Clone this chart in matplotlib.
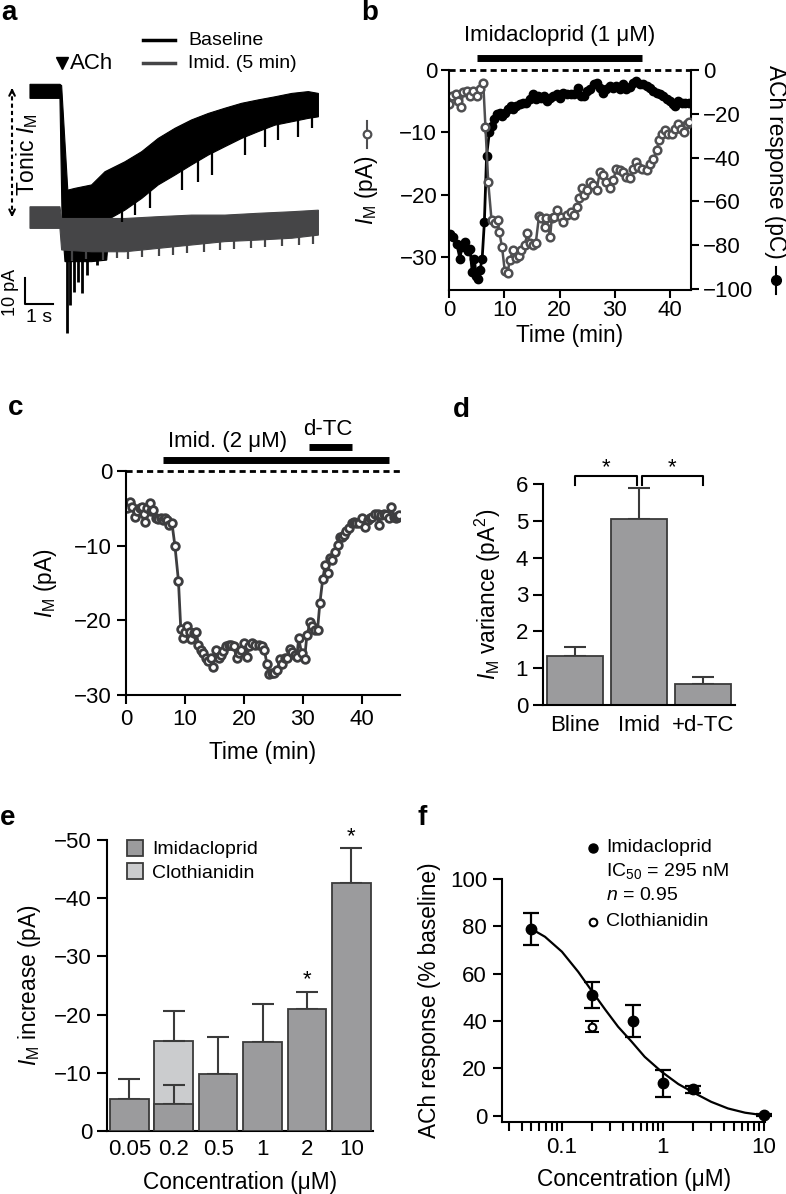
import numpy as np
import matplotlib
matplotlib.use("Agg")
import matplotlib.pyplot as plt
from matplotlib.patches import Patch
from matplotlib.lines import Line2D
from matplotlib.ticker import NullFormatter

plt.rcParams['font.family'] = ['Liberation Sans', 'DejaVu Sans']
plt.rcParams['mathtext.fontset'] = 'custom'
plt.rcParams['mathtext.rm'] = 'Liberation Sans'
plt.rcParams['mathtext.it'] = 'Liberation Sans:italic'
plt.rcParams['axes.linewidth'] = 1.5

FS = 16      # tick labels
LFS = 16.3   # axis labels
SFS = 14     # legends / small annotations

# ---------------- data ----------------
# a: envelopes of the two current traces (time in s, current in pA)
a_black_up_t = [0, 1.07, 1.13, 1.35, 1.61, 2.20, 2.68, 3.39, 3.99, 4.58, 5.18, 5.77, 6.37,
                6.96, 7.56, 8.15, 8.75, 9.35, 9.94, 10.30]
a_black_up_v = [51.3, 51.3, 50.8, 10.6, 11.3, 12.6, 17.7, 21.5, 25.4, 30.5, 34.4, 37.6, 40.1,
                42.1, 44.0, 45.3, 46.5, 47.8, 48.5, 47.8]
a_black_lo_t = [0, 1.07, 1.15, 1.25, 2.20, 2.74, 2.86, 3.39, 3.99, 4.58, 5.18, 5.77, 6.37,
                6.96, 7.56, 8.15, 8.75, 9.35, 9.94, 10.30]
a_black_lo_v = [45.9, 45.9, -2.8, -16.9, -16.9, -16.3, -0.3, 2.9, 7.4, 12.6, 16.4, 20.3, 24.1,
                27.3, 30.5, 33.1, 35.6, 36.9, 38.2, 38.8]
# downward spikes: early (below the band) and later (from the lower edge)
a_spike_t = [1.31, 1.43, 1.58, 1.73, 1.87, 2.02, 2.38]
a_spike_v = [-44.5, -33.6, -28.5, -24.6, -29.1, -22.1, -18.2]
a_edge_spike_t = [3.27, 3.75, 4.29, 5.42, 6.01, 6.49, 7.68, 8.39, 8.87, 9.58, 10.06]
a_edge_spike_top = [5.0, 9.0, 13.0, 21.0, 25.0, 28.0, 34.0, 37.0, 39.0, 40.0, 41.0]
a_edge_spike_v = [-1.5, 1.0, 3.6, 10.6, 13.8, 16.4, 24.1, 27.3, 29.9, 31.2, 34.4]
a_gray_t = [0, 1.07, 1.13, 2.20, 3.39, 4.58, 5.77, 6.96, 8.15, 9.35, 10.30]
a_gray_up = [4.2, 4.2, -0.3, -0.3, -0.3, 0.4, 1.0, 1.0, 1.7, 2.3, 2.9]
a_gray_lo = [-4.1, -4.1, -12.4, -13.1, -13.1, -11.8, -10.5, -9.2, -8.6, -7.9, -6.7]
a_gray_spike_t = [1.5, 2.0, 2.6, 3.1, 3.5, 4.0, 4.6, 5.1, 5.6, 6.2, 6.8, 7.3, 7.9, 8.4, 9.0, 9.6, 10.1]
a_gray_spike_v = [-16.5, -15.8, -16.2, -15.6, -15.9, -15.0, -14.6, -14.2, -13.5, -13.0, -12.4,
                  -12.2, -11.6, -11.4, -10.9, -10.4, -10.0]

# b: tonic IM (left axis) and ACh response (right axis)
b_im_t = [0, 0.6, 1.2, 1.7, 2.1, 2.6, 3.2, 3.8, 4.4, 5.0, 5.6, 6.2, 6.6, 7.1, 7.7, 8.3, 8.8,
          9.1, 9.6, 10.1, 10.6, 11.0, 11.6, 12.1, 12.7, 13.1, 13.7, 14.2, 14.6, 15.2, 15.7,
          16.3, 16.7, 17.3, 17.6, 18.3, 18.6, 19.0, 19.6, 20.2, 20.7, 21.3, 22.1, 22.6, 23.2,
          23.6, 24.1, 24.5, 25.0, 25.5, 26.1, 26.7, 27.3, 27.9, 28.5, 29.1, 29.7, 30.3, 30.9,
          31.5, 32.1, 32.7, 33.3, 33.8, 34.2, 35.0, 35.8, 36.4, 37.0, 37.6, 38.0, 38.5, 39.1,
          39.7, 40.3, 40.9, 41.5, 42.0, 42.6, 43.0, 43.5]
b_im_v = [-5.5, -4.1, -3.9, -4.9, -6.0, -3.6, -3.4, -4.1, -3.4, -4.1, -3.1, -2.1, -9.2, -18.0,
          -24.1, -24.6, -24.1, -26.0, -28.4, -32.3, -32.6, -30.5, -28.9, -30.2, -29.9, -28.9,
          -28.1, -26.2, -27.8, -28.1, -27.8, -23.4, -23.8, -25.2, -23.8, -26.8, -23.8, -23.6,
          -22.5, -23.6, -24.4, -23.2, -22.8, -23.3, -22.0, -20.6, -19.0, -20.1, -19.3, -18.0,
          -18.5, -19.3, -16.4, -16.9, -18.0, -19.0, -17.7, -15.9, -16.1, -16.4, -17.2, -17.4,
          -15.9, -14.8, -15.6, -15.9, -16.1, -15.1, -14.3, -12.9, -11.3, -10.3, -9.7, -10.3,
          -10.3, -9.5, -8.7, -9.5, -10.0, -8.7, -8.4]
b_ach_t = [0.2, 0.8, 1.4, 2.0, 2.3, 2.9, 3.4, 3.8, 4.2, 4.6, 4.9, 5.2, 5.6, 6.0, 6.4, 6.8, 7.3,
           7.7, 8.2, 8.6, 9.2, 9.6, 10.1, 10.7, 11.2, 11.6, 12.2, 12.8, 13.4, 14.0, 14.6, 15.2,
           15.7, 16.1, 16.7, 17.2, 17.7, 18.3, 18.9, 19.5, 20.1, 20.7, 21.3, 22.1, 22.7, 23.3,
           23.9, 24.4, 25.0, 25.6, 26.2, 26.7, 27.3, 27.9, 28.5, 29.1, 29.7, 30.3, 30.9, 31.5,
           32.1, 32.7, 33.3, 33.9, 34.5, 35.2, 35.8, 36.4, 37.0, 37.6, 38.2, 38.8, 39.4, 40.0,
           40.6, 40.9, 41.5, 42.1, 42.7, 43.5]
b_ach_v = [-74.8, -76.3, -79.4, -86.2, -80.9, -78.6, -82.4, -81.6, -92.3, -86.2, -93.8, -95.3,
           -91.5, -86.2, -69.5, -39.2, -28.5, -25.5, -22.5, -20.2, -19.4, -20.9, -19.4, -17.9,
           -16.4, -17.9, -16.4, -15.6, -14.9, -14.9, -13.4, -11.1, -13.4, -11.8, -12.6, -11.8,
           -14.1, -12.6, -11.8, -11.1, -12.6, -10.3, -10.8, -11.1, -11.1, -8.0, -11.8, -11.8,
           -9.6, -8.8, -6.5, -5.8, -8.0, -10.3, -8.8, -7.3, -8.0, -7.3, -8.8, -6.5, -8.8, -7.6,
           -5.8, -5.0, -6.5, -6.5, -7.3, -8.0, -9.6, -10.3, -11.1, -11.8, -13.4, -14.1, -15.6,
           -16.4, -14.1, -14.9, -14.9, -14.9]

# c: IM during imidacloprid 2 uM and d-TC
c_t = [0.2, 0.7, 1.1, 1.5, 1.9, 2.4, 2.7, 3.1, 3.3, 3.6, 4.0, 4.2, 4.6, 5.1, 5.5, 5.9, 6.2, 6.6,
       6.9, 7.3, 7.8, 8.3, 8.9, 9.3, 9.7, 10.0, 10.4, 10.9, 11.1, 11.5, 11.9, 12.3, 12.7, 13.1,
       13.6, 14.0, 14.4, 14.8, 15.3, 15.7, 16.1, 16.5, 17.0, 17.4, 17.9, 18.3, 18.8, 19.2, 19.6,
       20.0, 20.5, 20.9, 21.3, 21.9, 22.5, 23.1, 23.5, 23.9, 24.3, 24.7, 25.2, 25.7, 26.1, 26.5,
       27.0, 27.4, 27.8, 28.2, 28.7, 29.0, 29.3, 29.8, 30.3, 30.7, 31.3, 31.6, 32.1, 32.5, 32.9,
       33.4, 33.8, 34.2, 34.6, 35.0, 35.5, 35.9, 36.3, 36.7, 37.0, 37.3, 37.8, 38.3, 38.7, 39.1,
       39.5, 40.0, 40.6, 41.0, 41.4, 41.8, 42.3, 42.7, 42.9, 43.3, 43.7, 44.1, 44.6, 45.0, 45.4,
       45.8, 46.1, 46.4]
c_v = [-5.0, -4.1, -4.8, -6.1, -5.4, -5.0, -4.8, -5.7, -6.8, -5.0, -4.3, -5.4, -5.2, -6.3, -6.4,
       -6.3, -6.6, -6.3, -6.6, -7.2, -7.0, -10.0, -14.7, -21.2, -22.3, -21.5, -20.8, -21.5, -22.5,
       -21.7, -21.5, -23.3, -24.0, -24.4, -25.1, -25.5, -25.1, -26.2, -24.0, -25.1, -24.6, -24.1,
       -23.5, -23.3, -23.3, -23.5, -25.1, -24.4, -24.0, -23.1, -24.9, -23.5, -23.1, -23.3, -23.3,
       -23.5, -24.0, -25.8, -27.2, -27.1, -27.1, -26.7, -25.2, -25.8, -25.1, -25.1, -23.8, -24.2,
       -24.6, -24.9, -22.4, -24.4, -25.2, -22.0, -20.2, -20.8, -21.3, -21.3, -17.7, -14.4, -12.6,
       -13.7, -11.7, -11.9, -10.8, -9.9, -8.8, -8.8, -8.6, -8.1, -7.7, -7.0, -6.8, -7.0, -6.9,
       -6.3, -7.5, -6.6, -6.3, -6.1, -5.7, -5.7, -7.2, -5.9, -5.7, -5.9, -6.3, -4.8, -6.1, -6.3,
       -6.1, -5.9]

# d: IM variance
d_groups = ['Bline', 'Imid', '+d-TC']
d_vals = [1.33, 5.05, 0.57]
d_err = [0.24, 0.83, 0.20]

# e: IM increase by concentration
e_conc = ['0.05', '0.2', '0.5', '1', '2', '10']
e_imid = [-5.5, -4.6, -9.85, -15.35, -21.0, -42.6]
e_imid_err = [3.4, 3.25, 6.35, 6.55, 2.95, 6.0]
e_cloth_idx = 1
e_cloth = -15.5
e_cloth_err = 5.1
e_star_idx = [4, 5]

# f: ACh response vs concentration
f_conc = [0.05, 0.2, 0.5, 1, 2, 10]
f_resp = [78.9, 51.0, 40.0, 13.7, 11.1, 0.3]
f_err = [6.9, 5.6, 6.7, 5.7, 1.4, 0.3]
f_cloth_conc = [0.2]
f_cloth_resp = [37.6]
f_cloth_err = [2.4]
f_fit_x = [0.05, 0.068, 0.1, 0.145, 0.2, 0.27, 0.36, 0.49, 0.66, 0.97, 1.42, 2.07, 3.0, 4.4, 6.5, 10]
f_fit_y = [78.9, 75.6, 69.3, 60.8, 52.4, 44.7, 37.6, 31.3, 24.9, 18.6, 13.4, 9.5, 5.9, 3.1, 1.3, 0.2]

# ---------------- figure ----------------
W, H = 786, 1194
fig = plt.figure(figsize=(W / 100, H / 100), dpi=100)


def add_ax(x0, y0, x1, y1):
    return fig.add_axes([x0 / W, 1 - y1 / H, (x1 - x0) / W, (y1 - y0) / H])


def ftext(x, y, s, **kw):
    fig.text(x / W, 1 - y / H, s, **kw)


def style(ax, spines=('left', 'bottom'), length=6.5, pad=3.5):
    for s in ['left', 'right', 'top', 'bottom']:
        ax.spines[s].set_visible(s in spines)
    ax.tick_params(direction='out', length=length, width=1.5, labelsize=FS, pad=pad)


IM = r'$I_\mathrm{M}$'
GRAY_A = '#454547'
GRAY_B = '#4f4f51'
GRAY_C = '#3d3d3f'
BAR = '#9b9b9d'
BAR_LIGHT = '#cbccce'
EDGE = '#3a3a3a'

# panel letters
for (x, y, s) in [(1, 20, 'a'), (361, 20, 'b'), (8, 415, 'c'), (453, 417, 'd'),
                  (0, 825, 'e'), (418, 825, 'f')]:
    ftext(x, y, s, fontsize=20, fontweight='bold', va='baseline')

# ---- a ----
ax = add_ax(0, 20, 330, 350)
ax.set_xlim(-1.071, 10.714)
ax.set_ylim(-50.88, 76.04)
ax.axis('off')
ax.fill(np.r_[a_black_up_t, a_black_lo_t[::-1]], np.r_[a_black_up_v, a_black_lo_v[::-1]],
        color='black', lw=0.8)
ax.vlines(a_spike_t, -16, a_spike_v, color='black', lw=2)
ax.vlines(a_edge_spike_t, a_edge_spike_top, a_edge_spike_v, color='black', lw=1.6)
ax.fill(np.r_[a_gray_t, a_gray_t[::-1]], np.r_[a_gray_up, a_gray_lo[::-1]],
        color=GRAY_A, lw=0.8)
ax.vlines(a_gray_spike_t, -5, a_gray_spike_v, color=GRAY_A, lw=1.6)
ax.plot([4.04, 5.18], [68.3, 68.3], color='black', lw=2.5)
ax.plot([4.04, 5.18], [59.5, 59.5], color=GRAY_A, lw=2.5)
ax.text(5.64, 68.3, 'Baseline', fontsize=SFS, va='center')
ax.text(5.64, 59.5, 'Imid. (5 min)', fontsize=SFS, va='center')
ax.plot(1.14, 59.5, marker='v', ms=9, color='black')
ax.text(1.43, 59.5, 'ACh', fontsize=FS, va='center')
ax.plot([-0.64, -0.64], [49.5, 0.6], ls=(0, (2, 1.5)), lw=1.5, color='black')
ax.annotate('', xy=(-0.64, 51), xytext=(-0.64, 47), arrowprops=dict(arrowstyle='->', lw=1.5))
ax.annotate('', xy=(-0.64, -0.9), xytext=(-0.64, 3), arrowprops=dict(arrowstyle='->', lw=1.5))
ax.text(-0.11, 24.1, 'Tonic ' + IM, fontsize=16.5, rotation=90, ha='center', va='center')
ax.plot([-0.18, -0.18, 0.82], [-23.2, -33.2, -33.2], color='black', lw=1.5)
ax.text(-0.71, -28.6, '10 pA', fontsize=13, rotation=90, ha='center', va='center')
ax.text(0.32, -38.5, '1 s', fontsize=SFS, ha='center', va='center')

# ---- b ----
ax = add_ax(449, 70, 691, 290)
ax2 = ax.twinx()
ax.set_zorder(ax2.get_zorder() + 1)
ax.patch.set_visible(False)
ax.set_xlim(0, 43.8)
ax.set_ylim(-35.3, 0)
ax2.set_ylim(-100.4, 0)
style(ax, length=5.5, pad=3)
style(ax2, spines=('right',), length=5.5, pad=3)
ax.tick_params(axis='x', pad=2)
ax2.plot(b_ach_t, b_ach_v, color='black', lw=2, marker='o', ms=6)
ax.plot(b_im_t, b_im_v, color=GRAY_B, lw=1.8, marker='o', ms=5.5, mfc='white', mec=GRAY_B, mew=1.8)
ax.plot([0, 43.8], [0, 0], ls=(0, (2.2, 1.5)), lw=2, color='black', clip_on=False)
ax.plot([5, 35], [1.93, 1.93], lw=5, color='black', solid_capstyle='butt', clip_on=False)
ax.text(20.1, 5.6, 'Imidacloprid (1 μM)', fontsize=FS, ha='center', va='center')
ax.set_xticks([0, 10, 20, 30, 40])
ax.set_yticks([0, -10, -20, -30])
ax2.set_yticks([0, -20, -40, -60, -80, -100])
ax.set_xlabel('Time (min)', fontsize=LFS, labelpad=2)
ftext(367, 190, IM + ' (pA)', fontsize=LFS, rotation=90, ha='center', va='center')
fig.add_artist(Line2D([367 / W, 367 / W], [1 - 121 / H, 1 - 148 / H], color=GRAY_B, lw=1.5))
fig.add_artist(Line2D([367 / W], [1 - 134 / H], marker='o', ms=5.5, mfc='white', mec=GRAY_B, mew=1.6))
ftext(776, 162, 'ACh response (pC)', fontsize=LFS, rotation=270, ha='center', va='center')
fig.add_artist(Line2D([776 / W, 776 / W], [1 - 267 / H, 1 - 294 / H], color='black', lw=1.5))
fig.add_artist(Line2D([776 / W], [1 - 280 / H], marker='o', ms=7, color='black'))

# ---- c ----
ax = add_ax(126, 471, 400, 695)
ax.set_xlim(0, 46.5)
ax.set_ylim(-30, 0)
style(ax)
ax.plot(c_t, c_v, color=GRAY_C, lw=2, marker='o', ms=5.5, mfc='white', mec=GRAY_C, mew=2)
ax.plot([0, 46.5], [0, 0], ls=(0, (2.2, 1.5)), lw=2, color='black', clip_on=False)
ax.plot([6.3, 44.7], [1.47, 1.47], lw=5, color='black', solid_capstyle='butt', clip_on=False)
ax.plot([31, 38.4], [3.25, 3.25], lw=5, color='black', solid_capstyle='butt', clip_on=False)
ax.text(17.3, 4.0, 'Imid. (2 μM)', fontsize=FS, ha='center', va='center')
ax.text(34.3, 5.5, 'd-TC', fontsize=FS, ha='center', va='center')
ax.set_xticks([0, 10, 20, 30, 40])
ax.set_yticks([0, -10, -20, -30])
ax.set_xlabel('Time (min)', fontsize=LFS, labelpad=8)
ax.set_ylabel(IM + ' (pA)', fontsize=LFS, labelpad=11)

# ---- d ----
ax = add_ax(542.7, 484, 735, 705)
ax.set_xlim(-0.5, 2.5)
ax.set_ylim(0, 6)
style(ax, length=7)
xd = np.arange(len(d_groups))
ax.bar(xd, d_vals, width=0.875, color=BAR, edgecolor=EDGE, lw=1.3, zorder=2)
ax.errorbar(xd, d_vals, yerr=[np.zeros(len(d_vals)), d_err], fmt='none', ecolor=EDGE,
            elinewidth=1.5, capsize=8, capthick=1.5, zorder=1)
ax.set_xticks(xd, d_groups)
ax.tick_params(axis='x', length=0, pad=7)
ax.set_yticks(range(7))
for xa, xb in [(0, 0.97), (1.05, 2.0)]:
    ax.plot([xa, xa, xb, xb], [5.98, 6.22, 6.22, 5.98], color='black', lw=1.5, clip_on=False)
    ax.text((xa + xb) / 2, 6.3, '*', fontsize=16, ha='center', va='baseline')
ax.set_ylabel(IM + ' variance (pA$^2$)', fontsize=LFS, labelpad=9)

# ---- e ----
ax = add_ax(106.7, 840, 372.7, 1131)
ax.set_xlim(-0.51, 5.48)
ax.set_ylim(0, -50)
style(ax, length=7)
xe = np.arange(len(e_conc))
ax.bar(xe[e_cloth_idx], e_cloth, width=0.87, color=BAR_LIGHT, edgecolor=EDGE, lw=1.3)
ax.errorbar(xe[e_cloth_idx], e_cloth, yerr=[[e_cloth_err], [0]], fmt='none', ecolor=EDGE,
            elinewidth=1.5, capsize=8, capthick=1.5)
ax.bar(xe, e_imid, width=0.87, color=BAR, edgecolor=EDGE, lw=1.3, zorder=3)
ax.errorbar(xe, e_imid, yerr=[e_imid_err, np.zeros(len(e_imid))], fmt='none', ecolor=EDGE,
            elinewidth=1.5, capsize=8, capthick=1.5, zorder=2)
for i in e_star_idx:
    ax.text(xe[i], e_imid[i] - e_imid_err[i] - 0.2, '*', fontsize=16, ha='center',
            va='bottom', clip_on=False)
ax.set_xticks(xe, e_conc)
ax.tick_params(axis='x', length=0, pad=6)
ax.set_yticks([0, -10, -20, -30, -40, -50])
ax.set_xlabel('Concentration (μM)', fontsize=LFS, labelpad=8)
ax.set_ylabel(IM + ' increase (pA)', fontsize=LFS, labelpad=8)
handles = [Patch(facecolor=BAR, edgecolor=EDGE, lw=1.3, label='Imidacloprid'),
           Patch(facecolor=BAR_LIGHT, edgecolor=EDGE, lw=1.3, label='Clothianidin')]
ax.legend(handles=handles, loc='upper left', bbox_to_anchor=(0.075, 1.0), frameon=False,
          fontsize=SFS, handlelength=0.85, handleheight=0.85, handletextpad=0.45,
          labelspacing=0.25, borderpad=0, borderaxespad=0)

# ---- f ----
ax = add_ax(502.3, 879, 765, 1121.7)
ax.set_xscale('log')
ax.set_xlim(0.0257, 10.24)
ax.set_ylim(-2.5, 100)
style(ax, pad=4.5)
ax.tick_params(axis='x', which='minor', direction='out', length=6.5, width=1.5)
ax.plot(f_fit_x, f_fit_y, color='black', lw=1.6)
ax.errorbar(f_conc, f_resp, yerr=f_err, fmt='o', color='black', ms=7.5, elinewidth=1.6,
            capsize=6, capthick=1.6, clip_on=False, zorder=3)
ax.errorbar(f_cloth_conc, f_cloth_resp, yerr=f_cloth_err, fmt='o', color='black', mfc='white',
            ms=5.5, mew=1.5, elinewidth=1.5, capsize=5, capthick=1.5, zorder=3)
ax.set_xticks([0.1, 1, 10], ['0.1', '1', '10'])
ax.xaxis.set_minor_formatter(NullFormatter())
ax.set_yticks([0, 20, 40, 60, 80, 100])
ax.set_xlabel('Concentration (μM)', fontsize=LFS, labelpad=7)
ax.set_ylabel('ACh response (% baseline)', fontsize=LFS, labelpad=6)
ax.plot(0.345, 1.128, 'o', color='black', ms=6.5, transform=ax.transAxes, clip_on=False)
ax.plot(0.345, 0.824, 'o', color='black', mfc='white', ms=5.5, mew=1.5,
        transform=ax.transAxes, clip_on=False)
ax.text(0.394, 1.128, 'Imidacloprid', fontsize=SFS, va='center', transform=ax.transAxes)
ax.text(0.394, 1.035, 'IC$_{50}$ = 295 nM', fontsize=SFS, va='center', transform=ax.transAxes)
ax.text(0.394, 0.934, '$n$ = 0.95', fontsize=SFS, va='center', transform=ax.transAxes)
ax.text(0.394, 0.824, 'Clothianidin', fontsize=SFS, va='center', transform=ax.transAxes)

fig.savefig('out.png', dpi=100)
